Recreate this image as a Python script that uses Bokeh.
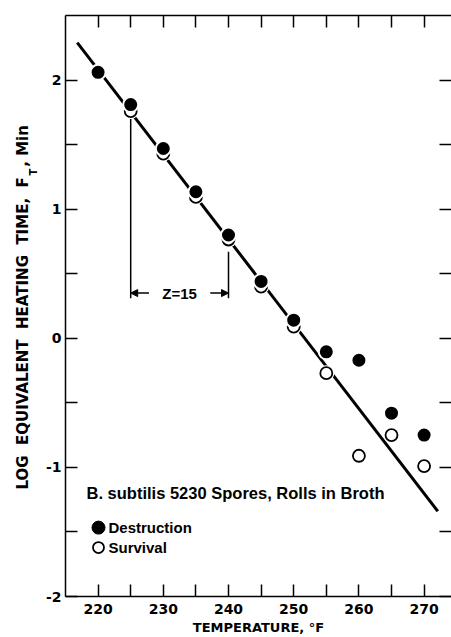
from bokeh.plotting import figure
from bokeh.models import Range1d, LinearAxis, FixedTicker, Label, Arrow, NormalHead, ColumnDataSource, Title
from bokeh.embed import file_html
from bokeh.resources import INLINE

# ---- data ----
temps = [220, 225, 230, 235, 240, 245, 250, 255, 260, 265, 270]
destruction = [2.06, 1.81, 1.47, 1.135, 0.80, 0.44, 0.14, -0.105, -0.17, -0.58, -0.75]
surv_temps = [225, 230, 235, 240, 245, 250, 255, 260, 265, 270]
survival = [1.76, 1.43, 1.095, 0.765, 0.40, 0.09, -0.27, -0.91, -0.75, -0.99]
fit_temps = [216.8, 272.1]
fit_log = [2.29, -1.34]
z_temps = [225, 240]
z_tops = [1.70, 0.67]
z_bottom = 0.31
z_arrow_y = 0.35
z_text = "Z=15"
x_ticks = [220, 225, 230, 235, 240, 245, 250, 255, 260, 265, 270]
x_tick_labels = ["220", "", "230", "", "240", "", "250", "", "260", "", "270"]
y_ticks = [-2, -1.5, -1, -0.5, 0, 0.5, 1, 1.5, 2]
y_tick_labels = ["-2", "", "-1", "", "0", "", "1", "", "2"]

NB = "\u00a0\u00a0"
y_title_main = NB.join(["LOG", "EQUIVALENT", "HEATING", "TIME,", "F"]) + NB + ",\u00a0Min"
y_title_sub = "T"

X0, X1 = 215, 274.2
Y0, Y1 = -2, 2.5
W, H = 451, 637
BL, BR, BT, BB = 65, 0, 15, 40
PPX = (W - BL - BR) / (X1 - X0)
PPY = (H - BT - BB) / (Y1 - Y0)

def px2x(px):
    return X0 + (px - BL) / PPX

def py2y(py):
    return Y1 - (py - BT) / PPY

p = figure(width=W, height=H, x_range=Range1d(X0, X1), y_range=Range1d(Y0, Y1),
           output_backend="svg", toolbar_location=None,
           min_border_left=BL, min_border_right=BR, min_border_top=BT, min_border_bottom=BB)
p.grid.visible = False
p.outline_line_color = None
p.background_fill_color = "white"
p.border_fill_color = "white"

xa = p.below[0]
ya = p.left[0]
top = LinearAxis()
right = LinearAxis()
p.add_layout(top, "above")
p.add_layout(right, "right")

def style(ax, ticks, labels, show):
    ax.ticker = FixedTicker(ticks=ticks)
    ax.major_label_overrides = {t: l for t, l in zip(ticks, labels)}
    ax.major_tick_in = 12
    ax.major_tick_out = 0
    ax.minor_tick_in = 0
    ax.minor_tick_out = 0
    ax.major_tick_line_width = 1.5
    ax.major_tick_line_color = "black"
    ax.axis_line_width = 1.5
    ax.axis_line_color = "black"
    ax.major_label_text_font = "DejaVu Sans"
    ax.major_label_text_font_style = "bold"
    ax.major_label_text_color = "black"
    if not show:
        ax.major_label_text_font_size = "0px"
        ax.major_label_standoff = 0

style(xa, x_ticks, x_tick_labels, True)
style(top, x_ticks, [""] * len(x_ticks), False)
style(ya, y_ticks, y_tick_labels, True)
style(right, y_ticks, [""] * len(y_ticks), False)
right.axis_line_color = None
xa.major_label_text_font_size = "14px"
xa.major_label_standoff = 7
ya.major_label_text_font_size = "14px"
ya.major_label_standoff = 4
xa.axis_label = "TEMPERATURE, °F"
xa.axis_label_text_font = "DejaVu Sans"
xa.axis_label_text_font_style = "bold"
xa.axis_label_text_font_size = "13px"
xa.axis_label_standoff = 3
xa.axis_label_text_color = "black"

# y axis title (with subscript T) as side titles
p.add_layout(Title(text=y_title_sub, align="left", offset=421, standoff=8,
                   text_font="DejaVu Sans", text_font_style="bold", text_font_size="10px",
                   text_color="black"), "left")
p.add_layout(Title(text=y_title_main, align="left", offset=107,
                   standoff=-20, text_font="DejaVu Sans", text_font_style="bold",
                   text_font_size="15px", text_color="black"), "left")

# fitted line
p.line(fit_temps, fit_log, line_color="black", line_width=3)

# Z bracket
for t, top_v in zip(z_temps, z_tops):
    p.line([t, t], [z_bottom, top_v], line_color="black", line_width=1.5)
p.add_layout(Arrow(end=NormalHead(size=7, fill_color="black", line_color="black"),
                   x_start=z_temps[0] + 2.8, y_start=z_arrow_y, x_end=z_temps[0], y_end=z_arrow_y,
                   line_color="black", line_width=1.5))
p.add_layout(Arrow(end=NormalHead(size=7, fill_color="black", line_color="black"),
                   x_start=z_temps[1] - 2.8, y_start=z_arrow_y, x_end=z_temps[1], y_end=z_arrow_y,
                   line_color="black", line_width=1.5))
p.add_layout(Label(x=(z_temps[0] + z_temps[1]) / 2, y=z_arrow_y, text=z_text,
                   text_align="center", text_baseline="middle",
                   text_font="Liberation Sans", text_font_style="bold", text_font_size="15px",
                   text_color="black"))

# markers
surv_src = ColumnDataSource(dict(x=surv_temps, y=survival))
dest_src = ColumnDataSource(dict(x=temps, y=destruction))
p.scatter("x", "y", source=surv_src, size=16, fill_color="white", line_color=None)
p.scatter("x", "y", source=surv_src, size=12, fill_color="white", line_color="black", line_width=1.8)
p.scatter("x", "y", source=dest_src, size=15, fill_color="black", line_color="white", line_width=2)

# caption and legend
p.add_layout(Label(x=px2x(86), y=py2y(493), text="B. subtilis 5230 Spores, Rolls in Broth",
                   text_align="left", text_baseline="middle",
                   text_font="Liberation Sans", text_font_style="bold", text_font_size="16.5px",
                   text_color="black"))
p.scatter([px2x(98)], [py2y(528)], size=13, fill_color="black", line_color="black")
p.scatter([px2x(98)], [py2y(548)], size=11, fill_color="white", line_color="black", line_width=1.8)
p.add_layout(Label(x=px2x(108), y=py2y(528), text="Destruction",
                   text_align="left", text_baseline="middle",
                   text_font="Liberation Sans", text_font_style="bold", text_font_size="15px",
                   text_color="black"))
p.add_layout(Label(x=px2x(108), y=py2y(548), text="Survival",
                   text_align="left", text_baseline="middle",
                   text_font="Liberation Sans", text_font_style="bold", text_font_size="15px",
                   text_color="black"))

open("out.html", "w").write(file_html(p, INLINE))
